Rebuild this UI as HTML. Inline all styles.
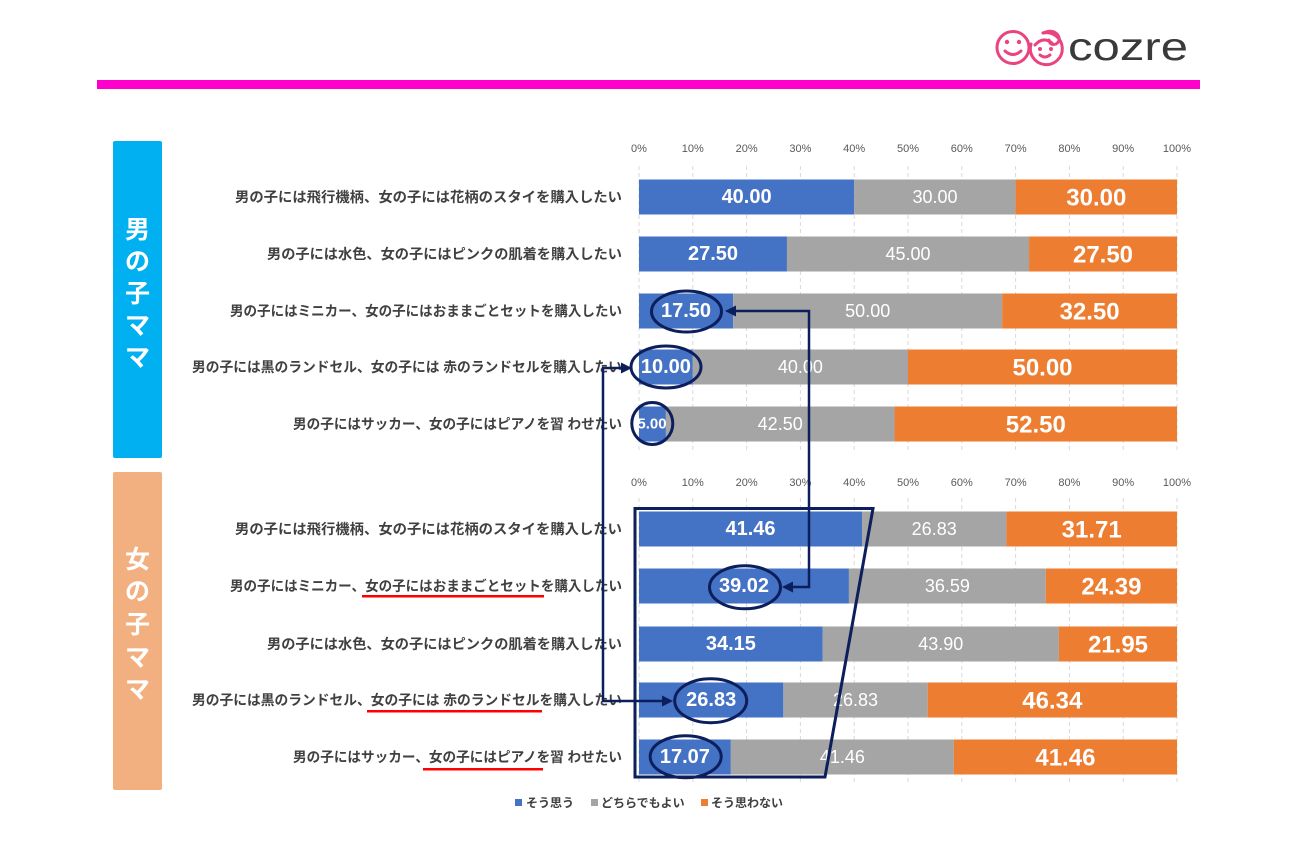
<!DOCTYPE html>
<html><head><meta charset="utf-8"><style>
html,body{margin:0;padding:0;background:#fff;}
svg{display:block;}
.cat{font-family:"Liberation Sans","Noto Sans CJK JP",sans-serif;font-weight:bold;font-size:14px;fill:#404040;}
.ax{font-family:"Liberation Sans",sans-serif;font-size:11px;fill:#595959;}
.vb{font-family:"Liberation Sans",sans-serif;font-weight:bold;font-size:20px;fill:#fff;}
.vg{font-family:"Liberation Sans",sans-serif;font-size:18px;fill:#fff;}
.vo{font-family:"Liberation Sans",sans-serif;font-weight:bold;font-size:24px;fill:#fff;}
.side{font-family:"Liberation Sans","Noto Sans CJK JP",sans-serif;font-weight:bold;font-size:25px;fill:#fff;}
.leg{font-family:"Liberation Sans","Noto Sans CJK JP",sans-serif;font-weight:bold;font-size:12px;fill:#404040;}
</style></head><body>
<svg width="1300" height="851" viewBox="0 0 1300 851" xmlns="http://www.w3.org/2000/svg">
<rect width="1300" height="851" fill="#fff"/>

<!-- Logo -->
<g fill="none" stroke="#e9447f" stroke-width="3" stroke-linecap="round">
  <circle cx="1013" cy="47.5" r="16"/>
  <path d="M1005 51 Q1013 58 1021 51"/>
  <path d="M1031 44 A16 16 0 1 0 1043 33"/>
  <path d="M1043 33 Q1052 29 1057 34 Q1062 40 1056 44 Q1050 46 1049 40"/>
  <path d="M1035 45 Q1043 36 1052 43"/>
  <path d="M1040 55 Q1045 59 1050 55"/>
</g>
<g fill="#e9447f">
  <circle cx="1007" cy="42" r="2.2"/><circle cx="1019" cy="42" r="2.2"/>
  <circle cx="1040" cy="49" r="2"/><circle cx="1051" cy="49" r="2"/>
</g>
<text x="1068" y="60" font-family="Liberation Sans, sans-serif" font-size="39" fill="#3a3a3a" textLength="120" lengthAdjust="spacingAndGlyphs">cozre</text>

<!-- Magenta rule -->
<rect x="97" y="80" width="1103" height="9" fill="#ff00cc"/>

<!-- Side panels -->
<rect x="113" y="141" width="49" height="317" rx="2" fill="#00b0f0"/>
<g class="side" text-anchor="middle" dominant-baseline="central">
  <text x="137.5" y="230">男</text><text x="137.5" y="262">の</text><text x="137.5" y="294">子</text><text x="137.5" y="326">マ</text><text x="137.5" y="358">マ</text>
</g>
<rect x="113" y="472" width="49" height="318" rx="2" fill="#f2af80"/>
<g class="side" text-anchor="middle" dominant-baseline="central">
  <text x="137.5" y="560">女</text><text x="137.5" y="592">の</text><text x="137.5" y="625">子</text><text x="137.5" y="658">マ</text><text x="137.5" y="690">マ</text>
</g>

<!-- Gridlines -->
<g stroke="#d9d9d9" stroke-width="1" stroke-dasharray="4,3">
  <line x1="639" y1="166" x2="639" y2="452"/><line x1="692.8" y1="166" x2="692.8" y2="452"/><line x1="746.6" y1="166" x2="746.6" y2="452"/><line x1="800.4" y1="166" x2="800.4" y2="452"/><line x1="854.2" y1="166" x2="854.2" y2="452"/><line x1="908" y1="166" x2="908" y2="452"/><line x1="961.8" y1="166" x2="961.8" y2="452"/><line x1="1015.6" y1="166" x2="1015.6" y2="452"/><line x1="1069.4" y1="166" x2="1069.4" y2="452"/><line x1="1123.2" y1="166" x2="1123.2" y2="452"/><line x1="1177" y1="166" x2="1177" y2="452"/>
  <line x1="639" y1="498" x2="639" y2="785"/><line x1="692.8" y1="498" x2="692.8" y2="785"/><line x1="746.6" y1="498" x2="746.6" y2="785"/><line x1="800.4" y1="498" x2="800.4" y2="785"/><line x1="854.2" y1="498" x2="854.2" y2="785"/><line x1="908" y1="498" x2="908" y2="785"/><line x1="961.8" y1="498" x2="961.8" y2="785"/><line x1="1015.6" y1="498" x2="1015.6" y2="785"/><line x1="1069.4" y1="498" x2="1069.4" y2="785"/><line x1="1123.2" y1="498" x2="1123.2" y2="785"/><line x1="1177" y1="498" x2="1177" y2="785"/>
</g>

<!-- Axis labels -->
<g class="ax" text-anchor="middle" dominant-baseline="central">
  <text x="639" y="149">0%</text><text x="692.8" y="149">10%</text><text x="746.6" y="149">20%</text><text x="800.4" y="149">30%</text><text x="854.2" y="149">40%</text><text x="908" y="149">50%</text><text x="961.8" y="149">60%</text><text x="1015.6" y="149">70%</text><text x="1069.4" y="149">80%</text><text x="1123.2" y="149">90%</text><text x="1177" y="149">100%</text>
  <text x="639" y="483">0%</text><text x="692.8" y="483">10%</text><text x="746.6" y="483">20%</text><text x="800.4" y="483">30%</text><text x="854.2" y="483">40%</text><text x="908" y="483">50%</text><text x="961.8" y="483">60%</text><text x="1015.6" y="483">70%</text><text x="1069.4" y="483">80%</text><text x="1123.2" y="483">90%</text><text x="1177" y="483">100%</text>
</g>

<!-- Top bars -->
<g>
  <rect x="639" y="179.5" width="215.2" height="35" fill="#4472c4"/><rect x="854.2" y="179.5" width="161.4" height="35" fill="#a5a5a5"/><rect x="1015.6" y="179.5" width="161.4" height="35" fill="#ed7d31"/>
  <rect x="639" y="236.5" width="147.95" height="35" fill="#4472c4"/><rect x="786.95" y="236.5" width="242.1" height="35" fill="#a5a5a5"/><rect x="1029.05" y="236.5" width="147.95" height="35" fill="#ed7d31"/>
  <rect x="639" y="293.5" width="94.15" height="35" fill="#4472c4"/><rect x="733.15" y="293.5" width="269" height="35" fill="#a5a5a5"/><rect x="1002.15" y="293.5" width="174.85" height="35" fill="#ed7d31"/>
  <rect x="639" y="349.5" width="53.8" height="35" fill="#4472c4"/><rect x="692.8" y="349.5" width="215.2" height="35" fill="#a5a5a5"/><rect x="908" y="349.5" width="269" height="35" fill="#ed7d31"/>
  <rect x="639" y="406.5" width="26.9" height="35" fill="#4472c4"/><rect x="665.9" y="406.5" width="228.65" height="35" fill="#a5a5a5"/><rect x="894.55" y="406.5" width="282.45" height="35" fill="#ed7d31"/>
</g>
<!-- Bottom bars -->
<g>
  <rect x="639" y="511.5" width="223.05" height="35" fill="#4472c4"/><rect x="862.05" y="511.5" width="144.35" height="35" fill="#a5a5a5"/><rect x="1006.4" y="511.5" width="170.6" height="35" fill="#ed7d31"/>
  <rect x="639" y="568.5" width="209.93" height="35" fill="#4472c4"/><rect x="848.93" y="568.5" width="196.85" height="35" fill="#a5a5a5"/><rect x="1045.78" y="568.5" width="131.22" height="35" fill="#ed7d31"/>
  <rect x="639" y="626.5" width="183.73" height="35" fill="#4472c4"/><rect x="822.73" y="626.5" width="236.18" height="35" fill="#a5a5a5"/><rect x="1058.91" y="626.5" width="118.09" height="35" fill="#ed7d31"/>
  <rect x="639" y="682.5" width="144.35" height="35" fill="#4472c4"/><rect x="783.35" y="682.5" width="144.34" height="35" fill="#a5a5a5"/><rect x="927.69" y="682.5" width="249.31" height="35" fill="#ed7d31"/>
  <rect x="639" y="739.5" width="91.84" height="35" fill="#4472c4"/><rect x="730.84" y="739.5" width="223.05" height="35" fill="#a5a5a5"/><rect x="953.89" y="739.5" width="223.11" height="35" fill="#ed7d31"/>
</g>

<!-- Values -->
<g text-anchor="middle" dominant-baseline="central">
  <text class="vb" x="746.6" y="197">40.00</text><text class="vg" x="935" y="197">30.00</text><text class="vo" x="1096.3" y="198">30.00</text>
  <text class="vb" x="713" y="254">27.50</text><text class="vg" x="908" y="254">45.00</text><text class="vo" x="1103" y="255">27.50</text>
  <text class="vb" x="686" y="311">17.50</text><text class="vg" x="867.7" y="311">50.00</text><text class="vo" x="1089.6" y="312">32.50</text>
  <text class="vb" x="665.9" y="367">10.00</text><text class="vg" x="800.4" y="367">40.00</text><text class="vo" x="1042.5" y="368">50.00</text>
  <text class="vb" x="652" y="424" style="font-size:15px">5.00</text><text class="vg" x="780.2" y="424">42.50</text><text class="vo" x="1035.8" y="425">52.50</text>
  <text class="vb" x="750.5" y="529">41.46</text><text class="vg" x="934.2" y="529">26.83</text><text class="vo" x="1091.7" y="530">31.71</text>
  <text class="vb" x="744" y="586">39.02</text><text class="vg" x="947.4" y="586">36.59</text><text class="vo" x="1111.4" y="587">24.39</text>
  <text class="vb" x="730.9" y="644">34.15</text><text class="vg" x="940.8" y="644">43.90</text><text class="vo" x="1118" y="645">21.95</text>
  <text class="vb" x="711.2" y="700">26.83</text><text class="vg" x="855.5" y="700">26.83</text><text class="vo" x="1052.3" y="701">46.34</text>
  <text class="vb" x="684.9" y="757">17.07</text><text class="vg" x="842.4" y="757">41.46</text><text class="vo" x="1065.4" y="758">41.46</text>
</g>

<!-- Category labels -->
<g class="cat" dominant-baseline="central">
  <text x="235" y="197" textLength="387" lengthAdjust="spacingAndGlyphs">男の子には飛行機柄、女の子には花柄のスタイを購入したい</text>
  <text x="267" y="254" textLength="355" lengthAdjust="spacingAndGlyphs">男の子には水色、女の子にはピンクの肌着を購入したい</text>
  <text x="230" y="311" textLength="392" lengthAdjust="spacingAndGlyphs">男の子にはミニカー、女の子にはおままごとセットを購入したい</text>
  <text x="192" y="367" textLength="430" lengthAdjust="spacingAndGlyphs">男の子には黒のランドセル、女の子には 赤のランドセルを購入したい</text>
  <text x="293" y="424" textLength="329" lengthAdjust="spacingAndGlyphs">男の子にはサッカー、女の子にはピアノを習 わせたい</text>
  <text x="235" y="529" textLength="387" lengthAdjust="spacingAndGlyphs">男の子には飛行機柄、女の子には花柄のスタイを購入したい</text>
  <text x="230" y="586" textLength="392" lengthAdjust="spacingAndGlyphs">男の子にはミニカー、女の子にはおままごとセットを購入したい</text>
  <text x="267" y="644" textLength="355" lengthAdjust="spacingAndGlyphs">男の子には水色、女の子にはピンクの肌着を購入したい</text>
  <text x="192" y="700" textLength="430" lengthAdjust="spacingAndGlyphs">男の子には黒のランドセル、女の子には 赤のランドセルを購入したい</text>
  <text x="293" y="757" textLength="329" lengthAdjust="spacingAndGlyphs">男の子にはサッカー、女の子にはピアノを習 わせたい</text>
</g>

<!-- Red underlines -->
<g fill="#ff0000">
  <rect x="362" y="595" width="182" height="2.5"/>
  <rect x="367" y="710" width="175" height="2.5"/>
  <rect x="423" y="768" width="120" height="2.5"/>
</g>

<!-- Legend -->
<rect x="515" y="799" width="7" height="7" fill="#4472c4"/>
<text class="leg" x="526" y="803" dominant-baseline="central">そう思う</text>
<rect x="591" y="799" width="7" height="7" fill="#a5a5a5"/>
<text class="leg" x="601" y="803" dominant-baseline="central">どちらでもよい</text>
<rect x="701" y="799" width="7" height="7" fill="#ed7d31"/>
<text class="leg" x="711" y="803" dominant-baseline="central">そう思わない</text>

<!-- Annotations -->
<g fill="none" stroke="#0c1e5b" stroke-width="3">
  <ellipse cx="686.5" cy="311.5" rx="35" ry="20.5"/>
  <ellipse cx="666" cy="367" rx="35" ry="21"/>
  <ellipse cx="652.3" cy="423.5" rx="20.5" ry="21"/>
  <ellipse cx="745" cy="587.3" rx="35.5" ry="21.5"/>
  <ellipse cx="710.7" cy="700.7" rx="36" ry="22"/>
  <ellipse cx="685.7" cy="756.7" rx="35.5" ry="21"/>
  <polygon points="635,508.5 873,508.5 825,777 635,777"/>
</g>
<g fill="none" stroke="#0c1e5b" stroke-width="2.5">
  <polyline points="734,311 809,311 809,587 791,587"/>
  <polyline points="622,368 603,368 603,701 663,701"/>
</g>
<g fill="#0c1e5b">
  <polygon points="725,311 736,305.5 736,316.5"/>
  <polygon points="782,587 793,581.5 793,592.5"/>
  <polygon points="632,368 621,362.5 621,373.5"/>
  <polygon points="673,701 662,695.5 662,706.5"/>
</g>
</svg>
</body></html>
